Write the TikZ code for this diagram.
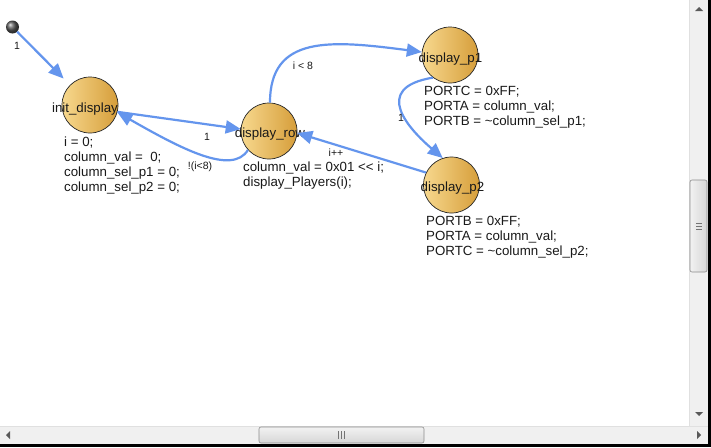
\documentclass[tikz,border=0pt]{standalone}
\usepackage{fontspec}
\setmainfont{Liberation Sans}
\usetikzlibrary{arrows.meta}
\definecolor{edgeblue}{RGB}{100,149,237}
\definecolor{stlight}{RGB}{247,216,142}
\definecolor{stdark}{RGB}{214,158,58}
\definecolor{trackgray}{RGB}{240,240,240}
\definecolor{thumbA}{RGB}{242,242,242}
\definecolor{thumbB}{RGB}{214,214,214}
\definecolor{txt}{RGB}{25,25,25}
\begin{document}
\begin{tikzpicture}[x=1pt,y=-1pt,
  state/.style={circle, draw=black!85, line width=0.7pt, minimum size=56pt, inner sep=0pt, left color=stlight, right color=stdark},
  stname/.style={font=\fontsize{13.3}{15}\selectfont, anchor=base, inner sep=0pt, text=txt},
  act/.style={font=\fontsize{13.3}{15}\selectfont, anchor=base west, inner sep=0pt, text=txt},
  elabel/.style={font=\fontsize{10.5}{12}\selectfont, inner sep=0pt, text=txt},
  trans/.style={draw=edgeblue, line width=2.2pt, -{Triangle[length=15pt,width=13pt]}},
  sbtrack/.style={fill=trackgray, draw=none},
  sbthumb/.style={draw=black!45, line width=0.6pt, rounded corners=2pt},
  sbarrow/.style={fill=black!65, draw=none}]
\useasboundingbox (0,0) rectangle (711,447);
\fill[white] (0,0) rectangle (711,447);

% ---- window chrome (scroll bars, frame)
\fill[sbtrack] (689,0) rectangle (708,426);
\draw[black!12, line width=0.6pt] (689.3,0) -- (689.3,426);
\fill[sbtrack] (0,426) rectangle (708,444);
\draw[black!12, line width=0.6pt] (0,426.3) -- (708,426.3);
\draw[sbthumb, left color=thumbA, right color=thumbB] (690,180) rectangle (707,272);
\foreach \yy in {223,226,229} \draw[black!55, line width=0.7pt] (696,\yy) -- (702,\yy);
\draw[sbthumb, top color=thumbA, bottom color=thumbB] (259,427) rectangle (424,443);
\foreach \xx in {338,341,344} \draw[black!55, line width=0.7pt] (\xx,431) -- (\xx,439);
\fill[sbarrow] (695,11) -- (703,11) -- (699,7) -- cycle;
\fill[sbarrow] (695,412) -- (703,412) -- (699,416) -- cycle;
\fill[sbarrow] (10,431) -- (10,439) -- (6,435) -- cycle;
\fill[sbarrow] (697,431) -- (697,439) -- (701,435) -- cycle;
\fill[black] (708,0) rectangle (711,447);
\fill[black] (0,444) rectangle (711,447);

% ---- states
\node[circle, minimum size=13pt, inner sep=0pt, shading=ball, ball color=black!65] (start) at (12.5,27) {};
\node[state] (initd) at (90,105) {};
\node[state] (drow) at (269,131) {};
\node[state] (dp1) at (450,55) {};
\node[state] (dp2) at (451.5,185) {};

\node[stname] (initdL) at (85,112.5) {init\_display};
\node[stname] (drowL) at (270,137.5) {display\_row};
\node[stname] (dp1L) at (450.5,62.5) {display\_p1};
\node[stname] (dp2L) at (452.5,191.5) {display\_p2};

% ---- actions
\node[act] (a1) at (64,146) {i = 0;};
\node[act] (a2) at (64,161) {column\_val = \ 0;};
\node[act] (a3) at (64,176) {column\_sel\_p1 = 0;};
\node[act] (a4) at (64,191) {column\_sel\_p2 = 0;};
\node[act] (b1) at (243,171.5) {column\_val = 0x01 <{}< i;};
\node[act] (b2) at (243,186.5) {display\_Players(i);};
\node[act] (c1) at (424,95.5) {PORTC = 0xFF;};
\node[act] (c2) at (424,110.5) {PORTA = column\_val;};
\node[act] (c3) at (424,125.5) {PORTB = \textasciitilde column\_sel\_p1;};
\node[act] (d1) at (426,225.5) {PORTB = 0xFF;};
\node[act] (d2) at (426,240.5) {PORTA = column\_val;};
\node[act] (d3) at (426,255.5) {PORTC = \textasciitilde column\_sel\_p2;};

% ---- transitions
\draw[trans, shorten >=9pt] (start) -- (initd.135);
\draw[trans] (initd.-14) -- (drow.176);
\draw[trans] (drow.222) .. controls (232,176) and (180,148) .. (initd.-15);
\draw[trans] (drow.88) .. controls (270,35) and (330,40) .. (dp1.174);
\draw[trans] (dp1.233) .. controls (370,88) and (410,130) .. (dp2.108);
\draw[trans] (dp2.154) -- (drow.-4);

% ---- transition labels
\node[elabel] (l1) at (17,46) {1};
\node[elabel] (l2) at (207,137) {1};
\node[elabel] (l3) at (200,167) {!(i<8)};
\node[elabel] (l4) at (303,66) {i < 8};
\node[elabel] (l5) at (401,118) {1};
\node[elabel] (l6) at (336,152.5) {i++};
\end{tikzpicture}
\end{document}
